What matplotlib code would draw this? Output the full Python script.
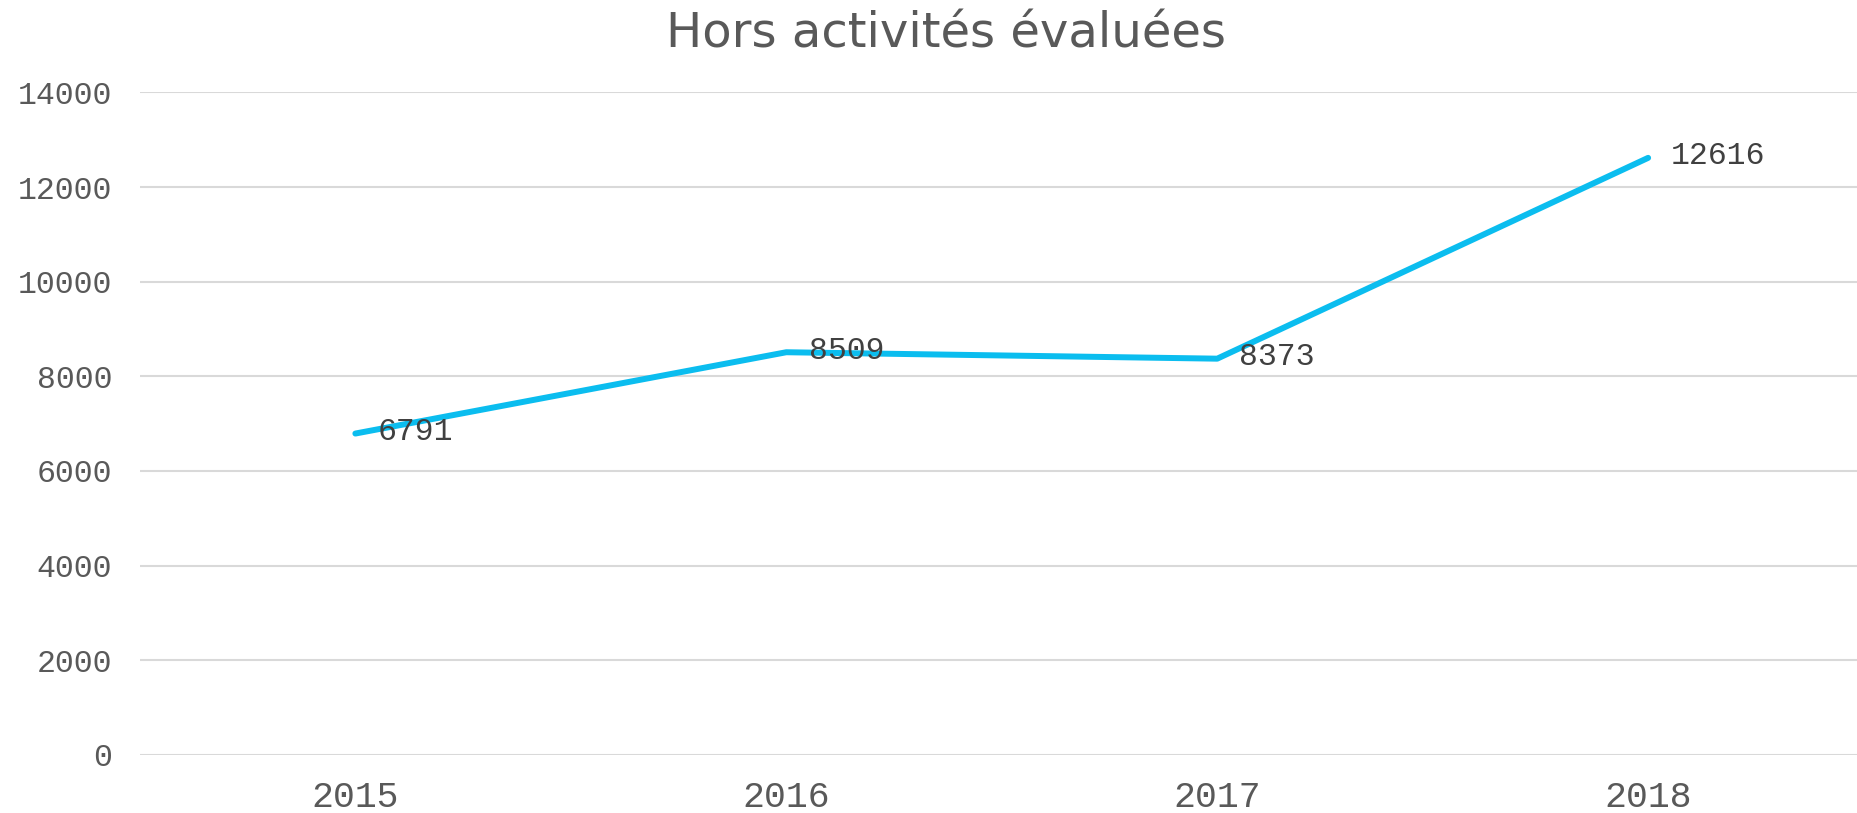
import matplotlib
matplotlib.use("Agg")
import matplotlib.pyplot as plt

years = ["2015", "2016", "2017", "2018"]
hours = [6791, 8509, 8373, 12616]
yticks = [0, 2000, 4000, 6000, 8000, 10000, 12000, 14000]

fig = plt.figure(figsize=(18.58, 8.13), dpi=100)
ax = fig.add_axes([0.0753, 0.0714, 0.9277, 0.815])

x = list(range(len(years)))
ax.plot(x, hours, color="#0BBDEF", linewidth=4.3, solid_capstyle="round", zorder=3)
for xi, v in zip(x, hours):
    ax.annotate(str(v), (xi, v), xytext=(16, 1), textcoords="offset points",
                ha="left", va="center", fontsize=22.7, family="Liberation Mono",
                color="#404040", zorder=4)

ax.set_xlim(-0.5, 3.5)
ax.set_ylim(0, 14000)
ax.set_yticks(yticks)
ax.set_yticklabels([str(t) for t in yticks], family="Liberation Mono", fontsize=22.7,
                   color="#595959", va="center_baseline")
ax.set_xticks(x)
ax.set_xticklabels(years, family="Liberation Mono", fontsize=26.3, color="#595959")
ax.tick_params(axis="y", length=0, pad=20)
ax.tick_params(axis="x", length=0, pad=18)
ax.grid(axis="y", color="#D9D9D9", linewidth=1.5)
ax.set_axisbelow(True)
for s in ax.spines.values():
    s.set_visible(False)

fig.text(0.509, 0.9418, "Hors activités évaluées", ha="center", va="baseline",
         fontsize=34.7, family="DejaVu Sans", color="#595959")

fig.savefig("out.png", dpi=100)
